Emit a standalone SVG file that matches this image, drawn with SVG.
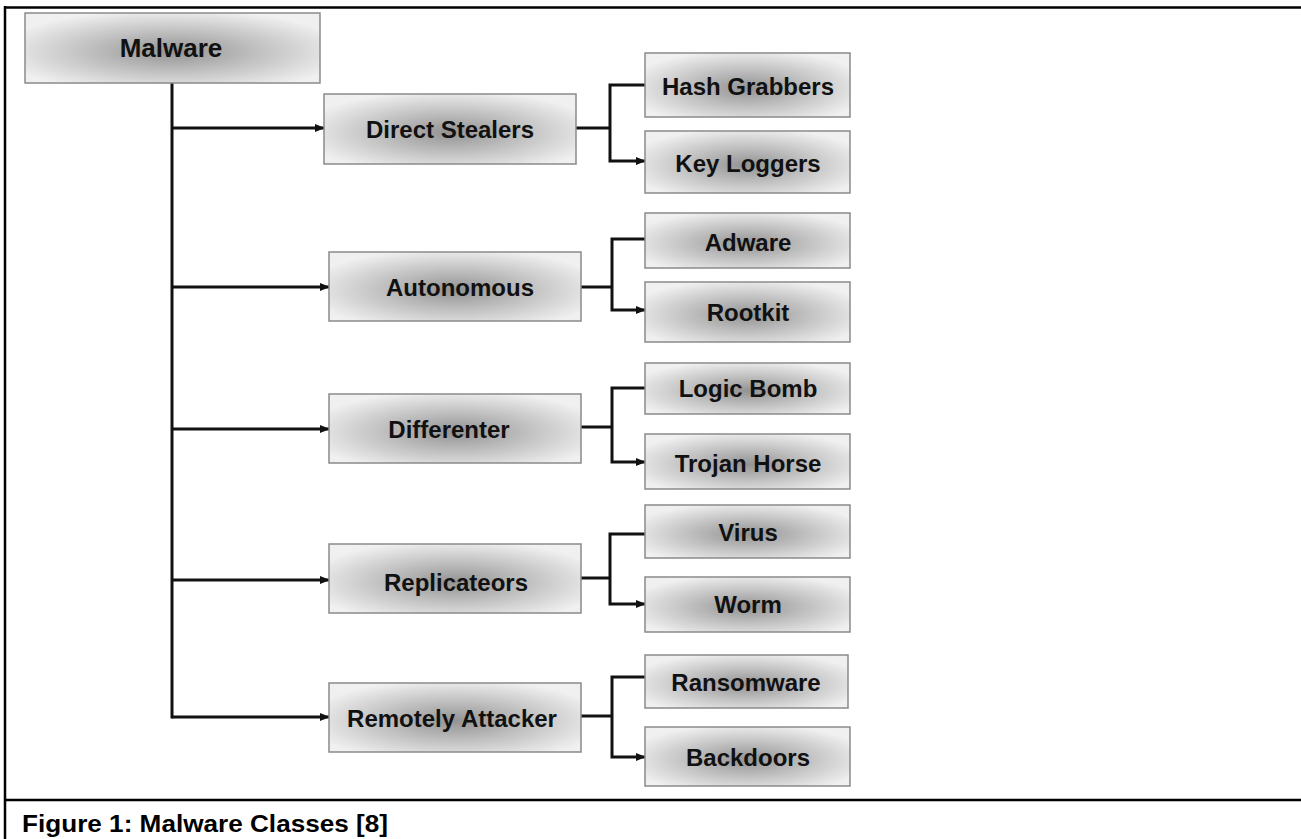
<svg xmlns="http://www.w3.org/2000/svg" width="1301" height="839" viewBox="0 0 1301 839">
<defs>
<radialGradient id="g" cx="0.5" cy="0.55" r="0.6">
<stop offset="0" stop-color="#939393"/>
<stop offset="0.5" stop-color="#c2c2c2"/>
<stop offset="1" stop-color="#f0f0f0"/>
</radialGradient>
<marker id="ah" markerWidth="10" markerHeight="8" refX="9" refY="4" orient="auto" markerUnits="userSpaceOnUse">
<path d="M0,0 L10,4 L0,8 Z" fill="#111"/>
</marker>
</defs>
<style>
.box{fill:url(#g);stroke:#8a8a8a;stroke-width:1.5}
.lbl{font-family:"Liberation Sans",Arial,sans-serif;font-weight:bold;font-size:24px;fill:#111;text-anchor:middle;dominant-baseline:central}
.big{font-size:26px}
.ln{fill:none;stroke:#111;stroke-width:3}
.ar{fill:none;stroke:#111;stroke-width:3;marker-end:url(#ah)}
.frame{fill:none;stroke:#000;stroke-width:2.5}
.cap{font-family:"Liberation Sans",Arial,sans-serif;font-weight:bold;font-size:23px;fill:#000}
</style>
<rect x="0" y="0" width="1301" height="839" fill="#fff"/>
<g id="frame">
<line class="frame" x1="4.5" y1="7.5" x2="1301" y2="7.5"/>
<line class="frame" x1="5" y1="6" x2="5" y2="839"/>
<line class="frame" x1="4" y1="800" x2="1301" y2="800"/>
<text class="cap" x="22" y="832" textLength="366" lengthAdjust="spacingAndGlyphs">Figure 1: Malware Classes [8]</text>
</g>
<g id="connectors">
<line class="ln" x1="172" y1="83" x2="172" y2="718.5"/>
<line class="ar" x1="171" y1="128" x2="324" y2="128"/>
<line class="ar" x1="171" y1="287" x2="329" y2="287"/>
<line class="ar" x1="171" y1="429" x2="329" y2="429"/>
<line class="ar" x1="171" y1="580" x2="329" y2="580"/>
<path class="ar" d="M172,717 L329,717"/>
<line class="ln" x1="576" y1="128" x2="610" y2="128"/>
<path class="ar" d="M645,85 L610,85 L610,161 L645,161"/>
<line class="ln" x1="581" y1="287" x2="612" y2="287"/>
<path class="ar" d="M645,239 L612,239 L612,310 L645,310"/>
<line class="ln" x1="581" y1="427" x2="612" y2="427"/>
<path class="ar" d="M645,388 L612,388 L612,462 L645,462"/>
<line class="ln" x1="581" y1="578" x2="610" y2="578"/>
<path class="ar" d="M645,534 L610,534 L610,604 L645,604"/>
<line class="ln" x1="581" y1="716" x2="612" y2="716"/>
<path class="ar" d="M645,677 L612,677 L612,757 L645,757"/>
</g>
<g id="n-malware"><rect class="box" x="25" y="13" width="295" height="70"/><text class="lbl big" x="171" y="48">Malware</text></g>
<g id="n-direct"><rect class="box" x="324" y="94" width="252" height="70"/><text class="lbl" x="450" y="129">Direct Stealers</text></g>
<g id="n-hash"><rect class="box" x="645" y="53" width="205" height="64"/><text class="lbl" x="748" y="86">Hash Grabbers</text></g>
<g id="n-key"><rect class="box" x="645" y="131" width="205" height="62"/><text class="lbl" x="748" y="163">Key Loggers</text></g>
<g id="n-auto"><rect class="box" x="329" y="252" width="252" height="69"/><text class="lbl" x="460" y="287">Autonomous</text></g>
<g id="n-adware"><rect class="box" x="645" y="213" width="205" height="55"/><text class="lbl" x="748" y="242">Adware</text></g>
<g id="n-rootkit"><rect class="box" x="645" y="282" width="205" height="60"/><text class="lbl" x="748" y="312">Rootkit</text></g>
<g id="n-diff"><rect class="box" x="329" y="394" width="252" height="69"/><text class="lbl" x="449" y="429">Differenter</text></g>
<g id="n-logic"><rect class="box" x="645" y="363" width="205" height="51"/><text class="lbl" x="748" y="388">Logic Bomb</text></g>
<g id="n-trojan"><rect class="box" x="645" y="434" width="205" height="55"/><text class="lbl" x="748" y="463">Trojan Horse</text></g>
<g id="n-repl"><rect class="box" x="329" y="544" width="252" height="69"/><text class="lbl" x="456" y="582">Replicateors</text></g>
<g id="n-virus"><rect class="box" x="645" y="505" width="205" height="53"/><text class="lbl" x="748" y="532">Virus</text></g>
<g id="n-worm"><rect class="box" x="645" y="577" width="205" height="55"/><text class="lbl" x="748" y="604">Worm</text></g>
<g id="n-remote"><rect class="box" x="329" y="683" width="252" height="69"/><text class="lbl" x="452" y="718">Remotely Attacker</text></g>
<g id="n-ransom"><rect class="box" x="645" y="655" width="203" height="53"/><text class="lbl" x="746" y="682">Ransomware</text></g>
<g id="n-backdoors"><rect class="box" x="645" y="727" width="205" height="59"/><text class="lbl" x="748" y="757">Backdoors</text></g>
</svg>
